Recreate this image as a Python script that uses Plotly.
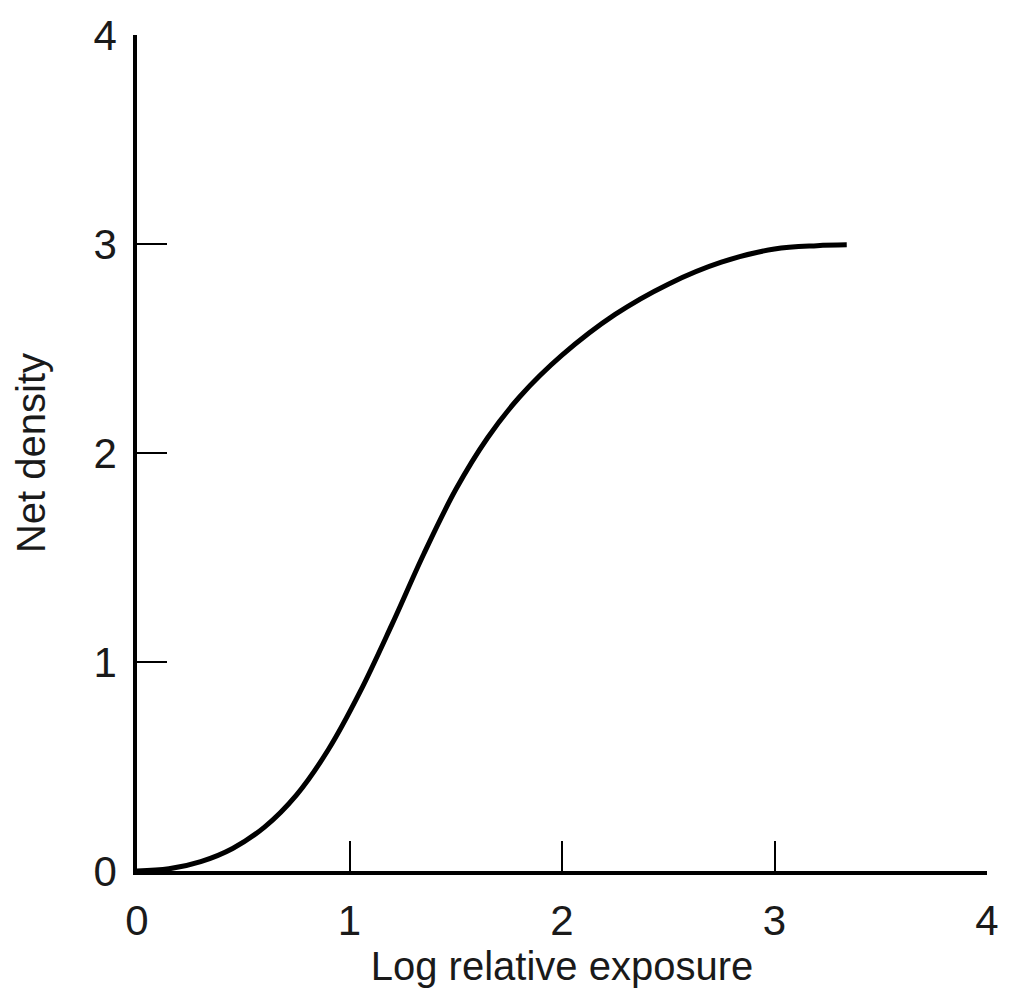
import plotly.graph_objects as go

# Characteristic (H&D) curve of a photographic emulsion
log_exposure = [0, 0.15, 0.3, 0.45, 0.6, 0.75, 0.9, 1.05, 1.2, 1.35, 1.5, 1.65,
                1.8, 2.0, 2.25, 2.5, 2.75, 3.0, 3.2, 3.34]
net_density = [0, 0.0105, 0.045, 0.108, 0.21, 0.363, 0.58, 0.858, 1.18, 1.518, 1.825, 2.073,
               2.268, 2.468, 2.663, 2.808, 2.913, 2.976, 2.992, 2.996]

x_ticks = [0, 1, 2, 3, 4]
y_ticks = [0, 1, 2, 3, 4]

FONT = "Liberation Sans Narrow, Liberation Sans, Arial, sans-serif"
TEXT_COLOR = "#1a1a1a"

fig = go.Figure()
fig.add_trace(go.Scatter(
    x=log_exposure, y=net_density, mode="lines",
    line=dict(color="black", width=5, shape="spline", smoothing=1.0),
    hoverinfo="skip", showlegend=False,
))

axis_common = dict(
    showline=True, linecolor="black", linewidth=3.5,
    ticks="inside", ticklen=30, tickwidth=2, tickcolor="black",
    showgrid=False, zeroline=False,
    tickfont=dict(family=FONT, size=42, color=TEXT_COLOR),
)

fig.update_xaxes(
    range=[0, 4], tickvals=x_ticks, ticktext=[str(v) for v in x_ticks],
    title=dict(text="Log relative exposure", font=dict(family=FONT, size=40, color=TEXT_COLOR), standoff=8),
    ticklabelstandoff=10,
    **axis_common,
)
fig.update_yaxes(
    range=[0, 4], tickvals=y_ticks, ticktext=[str(v) for v in y_ticks],
    title=dict(text="Net density", font=dict(family=FONT, size=40, color=TEXT_COLOR), standoff=36),
    ticklabelstandoff=8,
    **axis_common,
)

fig.update_layout(
    width=1014, height=992,
    margin=dict(l=137, r=27, t=26, b=121),
    plot_bgcolor="white", paper_bgcolor="white",
)

fig.write_html("out.html")
